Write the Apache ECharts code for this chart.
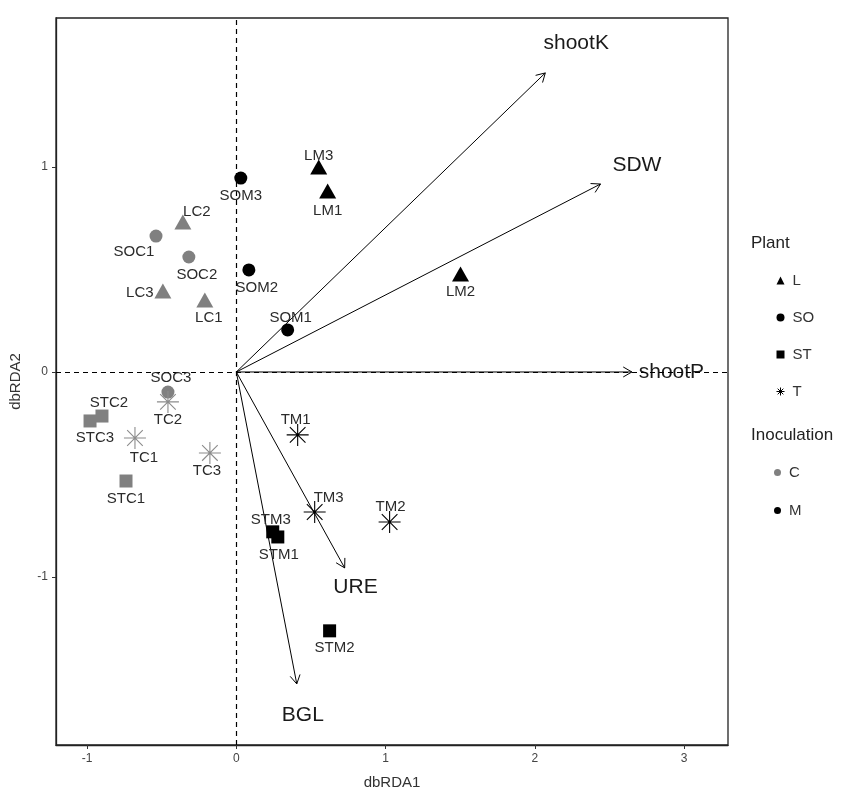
<!DOCTYPE html>
<html>
<head>
<meta charset="utf-8">
<script src="https://cdn.jsdelivr.net/npm/echarts@6/dist/echarts.min.js"></script>
<style>html,body{margin:0;padding:0;background:#fff}#c{width:845px;height:795px}</style>
</head>
<body>
<div id="c"></div>
<script>
// ---- data ----
const sampleNames = ['LM1','LM2','LM3','LC1','LC2','LC3','SOM1','SOM2','SOM3','SOC1','SOC2','SOC3','STM1','STM2','STM3','STC1','STC2','STC3','TM1','TM2','TM3','TC1','TC2','TC3'];
const plant       = ['L','L','L','L','L','L','SO','SO','SO','SO','SO','SO','ST','ST','ST','ST','ST','ST','T','T','T','T','T','T'];
const inoculation = ['M','M','M','C','C','C','M','M','M','C','C','C','M','M','M','C','C','C','M','M','M','C','C','C'];
const dbRDA1 = [0.612, 1.502, 0.552, -0.211, -0.358, -0.492, 0.344, 0.084, 0.030, -0.538, -0.318, -0.458, 0.278, 0.625, 0.244, -0.739, -0.900, -0.980, 0.411, 1.027, 0.525, -0.679, -0.458, -0.177];
const dbRDA2 = [0.883, 0.478, 1.000, 0.351, 0.732, 0.395, 0.205, 0.498, 0.946, 0.663, 0.561, -0.098, -0.805, -1.263, -0.780, -0.532, -0.215, -0.239, -0.307, -0.732, -0.683, -0.322, -0.146, -0.395];

const envNames = ['shootK', 'SDW', 'shootP', 'URE', 'BGL'];
const envX = [2.07, 2.44, 2.65, 0.726, 0.405];
const envY = [1.459, 0.917, 0.0, -0.956, -1.522];

const xTicks = [-1, 0, 1, 2, 3];
const yTicks = [-1, 0, 1];
const plantLevels = ['L', 'SO', 'ST', 'T'];
const inocLevels = ['C', 'M'];

// ---- styles (not data) ----
const labelOffsets = {
  LM3:[0,-11], LM1:[0,20], LM2:[0,18], LC2:[14,-10], LC3:[-23,2], LC1:[4,18],
  SOC1:[-22,16], SOC2:[8,18], SOC3:[3,-14], SOM3:[0,18], SOM2:[8,18], SOM1:[3,-12],
  STC2:[7,-13], STC3:[5,17], STC1:[0,18], STM3:[-2,-12], STM1:[1,18], STM2:[5,17],
  TC2:[0,18], TC1:[9,20], TC3:[-3,18], TM1:[-2,-15], TM3:[14,-14], TM2:[1,-15]
};
const FONT = "'Liberation Sans', Arial, sans-serif";
const inocColor = { C: '#808080', M: '#000000' };
const starPath = 'path://M10,0L10,20M0,10L20,10M2.9,2.9L17.1,17.1M2.9,17.1L17.1,2.9';
const plantSymbol = { L: 'triangle', SO: 'circle', ST: 'rect', T: starPath };
const plantSize = { L: [17, 15], SO: 13, ST: 13, T: 22 };

function plantSeries(p) {
  const data = [];
  sampleNames.forEach((n, i) => {
    if (plant[i] !== p) return;
    const col = inocColor[inoculation[i]];
    const item = {
      name: n,
      value: [dbRDA1[i], dbRDA2[i]],
      label: { offset: labelOffsets[n] || [0, 16] }
    };
    if (p === 'T') item.itemStyle = { color: 'none', borderColor: col === '#808080' ? '#8c8c8c' : '#000', borderWidth: 1.1, opacity: 1 };
    else item.itemStyle = { color: col, opacity: 1 };
    data.push(item);
  });
  return {
    name: p,
    type: 'scatter',
    symbol: plantSymbol[p],
    symbolSize: plantSize[p],
    itemStyle: p === 'T' ? { color: 'none', borderColor: '#000', borderWidth: 1.1, opacity: 1 } : { color: '#000', opacity: 1 },
    label: {
      show: true, position: 'inside', formatter: '{b}',
      color: '#2b2b2b', fontSize: 15, fontFamily: FONT
    },
    emphasis: { disabled: true },
    z: 5,
    data
  };
}

const series = plantLevels.map(plantSeries);

inocLevels.forEach(l => series.push({
  name: l, type: 'scatter', symbol: 'circle', itemStyle: { color: inocColor[l], opacity: 1 }, data: []
}));

// zero lines
series.push({
  type: 'scatter', data: [], silent: true,
  markLine: {
    silent: true, symbol: 'none', label: { show: false },
    lineStyle: { type: [5, 4], color: '#000', width: 1.2 },
    data: [{ xAxis: 0 }, { yAxis: 0 }]
  }
});

// environmental vectors
series.push({
  type: 'custom',
  z: 4,
  data: envNames.map((n, i) => [envX[i], envY[i], n]),
  renderItem: function (params, api) {
    const x = api.value(0), y = api.value(1);
    const o = api.coord([0, 0]);
    const t = api.coord([x, y]);
    const ang = Math.atan2(t[1] - o[1], t[0] - o[0]);
    const hl = 10, a = Math.PI / 6;
    const h1 = [t[0] - hl * Math.cos(ang - a), t[1] - hl * Math.sin(ang - a)];
    const h2 = [t[0] - hl * Math.cos(ang + a), t[1] - hl * Math.sin(ang + a)];
    const lp = api.coord([x * 1.1, y * 1.1]);
    return {
      type: 'group',
      children: [
        { type: 'line', shape: { x1: o[0], y1: o[1], x2: t[0], y2: t[1] }, style: { stroke: '#000', lineWidth: 1 } },
        { type: 'polyline', shape: { points: [h1, t, h2] }, style: { stroke: '#000', lineWidth: 1, fill: null } },
        { type: 'text', x: lp[0], y: lp[1], style: { text: api.value(2), fill: '#1a1a1a', font: '21px ' + FONT, align: 'center', verticalAlign: 'middle' } }
      ]
    };
  }
});

const chart = echarts.init(document.getElementById('c'));
chart.setOption({
  animation: false,
  backgroundColor: '#fff',
  grid: { left: 55, right: 117, top: 18, bottom: 50, show: true, borderColor: '#222', borderWidth: 1.3, backgroundColor: 'transparent' },
  xAxis: {
    type: 'value', min: -1.208, max: 3.294,
    name: 'dbRDA1', nameLocation: 'middle', nameGap: 30,
    nameTextStyle: { color: '#333', fontSize: 15, fontFamily: FONT },
    axisLine: { show: true, onZero: false, lineStyle: { color: '#222', width: 1.3 } },
    axisTick: { show: true, length: 4, customValues: xTicks, lineStyle: { color: '#333' } },
    axisLabel: { customValues: xTicks, color: '#444', fontSize: 12, fontFamily: FONT, margin: 8 },
    splitLine: { show: false }
  },
  yAxis: {
    type: 'value', min: -1.82, max: 1.727,
    name: 'dbRDA2', nameLocation: 'middle', nameGap: 33,
    nameTextStyle: { color: '#333', fontSize: 15, fontFamily: FONT },
    axisLine: { show: true, onZero: false, lineStyle: { color: '#222', width: 1.3 } },
    axisTick: { show: true, length: 4, customValues: yTicks, lineStyle: { color: '#333' } },
    axisLabel: { customValues: yTicks, color: '#444', fontSize: 12, fontFamily: FONT, margin: 8 },
    splitLine: { show: false }
  },
  legend: [
    {
      orient: 'vertical', left: 769, top: 268, itemWidth: 8, itemHeight: 8, itemGap: 22,
      selectedMode: false, textStyle: { fontSize: 15, color: '#333', fontFamily: FONT, padding: [0, 0, 0, 3] },
      data: [
        { name: 'L', icon: 'triangle' },
        { name: 'SO', icon: 'circle' },
        { name: 'ST', icon: 'rect' },
        { name: 'T', icon: starPath, itemStyle: { color: 'none', borderColor: '#000', borderWidth: 1 } }
      ]
    },
    {
      orient: 'vertical', left: 769, top: 460, itemWidth: 7, itemHeight: 7, itemGap: 23,
      selectedMode: false, textStyle: { fontSize: 15, color: '#333', fontFamily: FONT, padding: [0, 0, 0, 3] },
      data: [{ name: 'C', icon: 'circle' }, { name: 'M', icon: 'circle' }]
    }
  ],
  graphic: [
    { type: 'text', left: 751, top: 235, style: { text: 'Plant', font: '17px ' + FONT, fill: '#222' } },
    { type: 'text', left: 751, top: 427, style: { text: 'Inoculation', font: '17px ' + FONT, fill: '#222' } }
  ],
  series
});
</script>
</body>
</html>
